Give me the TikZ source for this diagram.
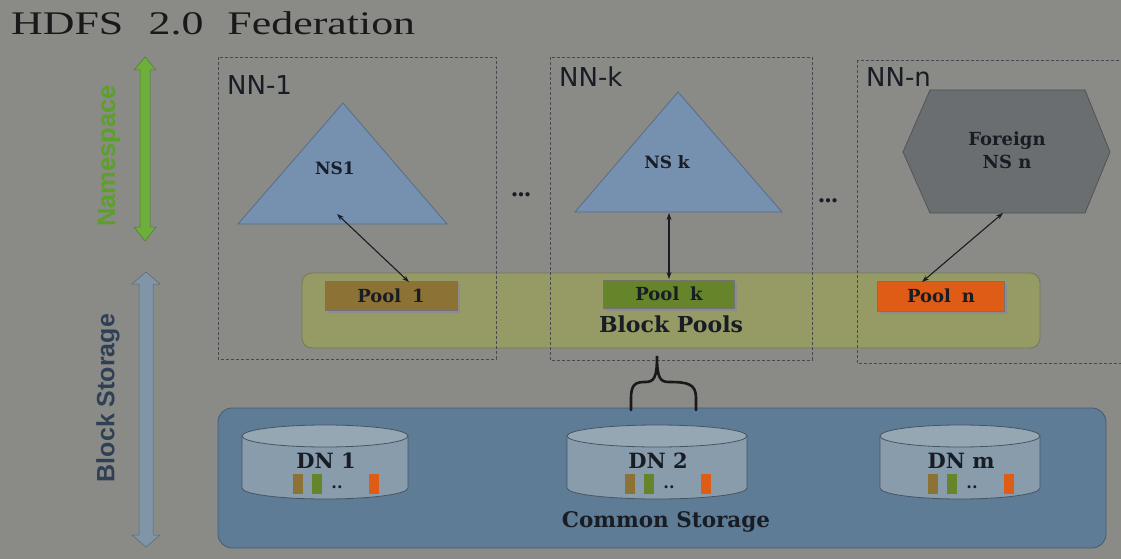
\documentclass[tikz,border=0pt]{standalone}
\usepackage{fontspec}
\setmainfont{Liberation Serif}
\setsansfont{Liberation Sans}
\newfontfamily\lblfont{DejaVu Serif}
\newfontfamily\nnfont{DejaVu Sans}
\usetikzlibrary{arrows.meta}
\definecolor{bg}{RGB}{138,138,135}
\definecolor{tri}{RGB}{118,144,176}
\definecolor{triedge}{RGB}{88,108,135}
\definecolor{hexf}{RGB}{106,110,112}
\definecolor{hexedge}{RGB}{80,84,86}
\definecolor{bpool}{RGB}{150,155,102}
\definecolor{bpooledge}{RGB}{118,122,80}
\definecolor{cstor}{RGB}{94,124,150}
\definecolor{cstoredge}{RGB}{70,92,115}
\definecolor{cyl}{RGB}{136,156,172}
\definecolor{cyltop}{RGB}{150,167,180}
\definecolor{cyledge}{RGB}{70,85,100}
\definecolor{pbrown}{RGB}{140,114,52}
\definecolor{pgreen}{RGB}{102,132,42}
\definecolor{porange}{RGB}{222,92,22}
\definecolor{nsgreen}{RGB}{92,160,42}
\definecolor{nsarrow}{RGB}{110,175,60}
\definecolor{bsarrow}{RGB}{128,150,168}
\definecolor{bstext}{RGB}{48,64,84}
\definecolor{ink}{RGB}{24,28,36}
\begin{document}
\begin{tikzpicture}[x=1pt,y=-1pt,
  nnbox/.style={draw=ink!80, densely dashed, line width=0.9pt},
  nnlabel/.style={anchor=north west, font=\nnfont\fontsize{26}{26}\selectfont, text=ink, inner sep=0pt},
  boldlbl/.style={text=ink, inner sep=0pt},
  poolbox/.style={draw=black!55, line width=0.8pt, minimum width=132pt, minimum height=29pt, inner sep=0pt, font=\lblfont\bfseries\fontsize{18}{18}\selectfont, text=ink},
  poolshadow/.style={fill=black!45},
  link/.style={{Stealth[length=7pt,width=5pt]}-{Stealth[length=7pt,width=5pt]}, line width=1.1pt, draw=ink},
  dotsl/.style={font=\bfseries\fontsize{26}{26}\selectfont, text=ink, inner sep=0pt},
  blk/.style={minimum width=10pt, minimum height=20pt, inner sep=0pt},
  smalldots/.style={font=\lblfont\bfseries\fontsize{16}{16}\selectfont, text=ink, inner sep=0pt, text height=3pt, text depth=0pt}
]
\fill[bg] (0,0) rectangle (1121,559);
\useasboundingbox (0,0) rectangle (1121,559);

% title
\node[anchor=north west, inner sep=0pt, text=black!90] (title) at (11,11)
  {\scalebox{1.33}[1]{\fontsize{33}{33}\selectfont HDFS\hspace{19pt}2.0\hspace{18pt}Federation}};

% Namespace arrow
\fill[nsarrow, draw=nsarrow!70!black, line width=0.5pt]
  (145,57) -- (156,70) -- (150,70) -- (150,227) -- (156,227) -- (145,241) -- (134,227) -- (140,227) -- (140,70) -- (134,70) -- cycle;
\node[rotate=90, font=\sffamily\bfseries\fontsize{25.5}{25.5}\selectfont, text=nsgreen, inner sep=0pt] (nslbl) at (109,156) {Namespace};

% Block storage arrow
\fill[bsarrow, draw=bsarrow!70!black, line width=0.5pt]
  (146,272) -- (160,284) -- (153,284) -- (153,535) -- (160,535) -- (146,547) -- (132,535) -- (139,535) -- (139,284) -- (132,284) -- cycle;
\node[rotate=90, font=\sffamily\bfseries\fontsize{25}{25}\selectfont, text=bstext, inner sep=0pt] (bslbl) at (108,398) {Block Storage};

% Block Pools
\fill[bpool, draw=bpooledge, line width=0.8pt, rounded corners=10pt] (302,273) rectangle (1040,348);
\node[boldlbl, font=\lblfont\bfseries\fontsize{22}{22}\selectfont] (bplbl) at (671,324) {Block\hspace{0.35em}Pools};

% Common storage
\fill[cstor, draw=cstoredge, line width=0.8pt, rounded corners=14pt] (218,408) rectangle (1106,548);
\node[boldlbl, font=\lblfont\bfseries\fontsize{21.5}{21.5}\selectfont] (cslbl) at (666,522) {Common Storage};

% NN boxes
\draw[nnbox] (218,57) rectangle (496,359);
\draw[nnbox] (550,57) rectangle (812,360);
\draw[nnbox] (857,60) rectangle (1125,363);
\node[nnlabel] (nn1) at (227,75) {NN-1};
\node[nnlabel] (nnk) at (559,67) {NN-k};
\node[nnlabel] (nnn) at (866,67) {NN-n};
\node[dotsl] (dots1) at (521,195) {...};
\node[dotsl] (dots2) at (828,201) {...};

% triangles
\fill[tri, draw=triedge, line width=0.8pt] (343,103) -- (447,224) -- (238,224) -- cycle;
\node[boldlbl, font=\lblfont\bfseries\fontsize{17}{17}\selectfont] (ns1) at (335,168) {NS1};
\fill[tri, draw=triedge, line width=0.8pt] (678,92) -- (782,212) -- (575,212) -- cycle;
\node[boldlbl, font=\lblfont\bfseries\fontsize{17}{17}\selectfont] (nsk) at (667,162) {NS k};

% hexagon
\fill[hexf, draw=hexedge, line width=0.8pt] (930,90) -- (1085,90) -- (1110,152) -- (1085,213) -- (930,213) -- (903,152) -- cycle;
\node[boldlbl, font=\lblfont\bfseries\fontsize{18}{18}\selectfont, align=center] (nsn) at (1007,150) {Foreign\\[5pt]NS n};

% pools
\fill[poolshadow] (328,284) rectangle (460,313);
\fill[poolshadow] (606,283) rectangle (737,311);
\fill[poolshadow] (880,284) rectangle (1007,314);
\node[poolbox, fill=pbrown] (pool1) at (391,296) {Pool\hspace{0.6em}1};
\node[poolbox, fill=pgreen, minimum width=131pt, minimum height=28pt] (poolk) at (669,294) {Pool\hspace{0.6em}k};
\node[poolbox, fill=porange, minimum width=127pt, minimum height=30pt] (pooln) at (941,296) {Pool\hspace{0.6em}n};

% links
\coordinate (a1) at (337,214);
\coordinate (b1) at (409,282);
\coordinate (ak) at (669,213);
\coordinate (bk) at (669,279);
\coordinate (an) at (1003,213);
\coordinate (bn) at (922,282);
\draw[link] (a1) -- (b1);
\draw[link] (ak) -- (bk);
\draw[link] (an) -- (bn);

% brace
\coordinate (brl) at (631,410);
\coordinate (brr) at (696,410);
\draw[line width=2.6pt, draw=black!90, line cap=round]
  (brl) -- (631,398) .. controls (631,384) and (636,382) .. (645,382)
  .. controls (654,382) and (657,378) .. (657,356)
  .. controls (657,378) and (660,382) .. (669,382)
  .. controls (688,382) and (696,384) .. (696,398) -- (brr);

% cylinders
\foreach \nm/\cx/\hw/\lbl in {dn1/325/83/DN 1, dn2/657/90/DN 2, dnm/960/80/DN m}{
  \fill[cyl, draw=cyledge, line width=0.8pt]
    (\cx-\hw,436) -- (\cx-\hw,488) arc[start angle=180, end angle=0, x radius=\hw, y radius=11] -- (\cx+\hw,436) -- cycle;
  \fill[cyltop, draw=cyledge, line width=0.8pt] (\cx,436) ellipse[x radius=\hw, y radius=11];
  \node[boldlbl, font=\lblfont\bfseries\fontsize{21}{21}\selectfont] (\nm) at (\cx+1,461) {\lbl};
  \node[blk, fill=pbrown] (\nm b) at (\cx-27,484) {};
  \node[blk, fill=pgreen] (\nm g) at (\cx-8,484) {};
  \node[smalldots] (\nm d) at (\cx+12,487) {..};
  \node[blk, fill=porange] (\nm o) at (\cx+49,484) {};
}
\end{tikzpicture}
\end{document}
